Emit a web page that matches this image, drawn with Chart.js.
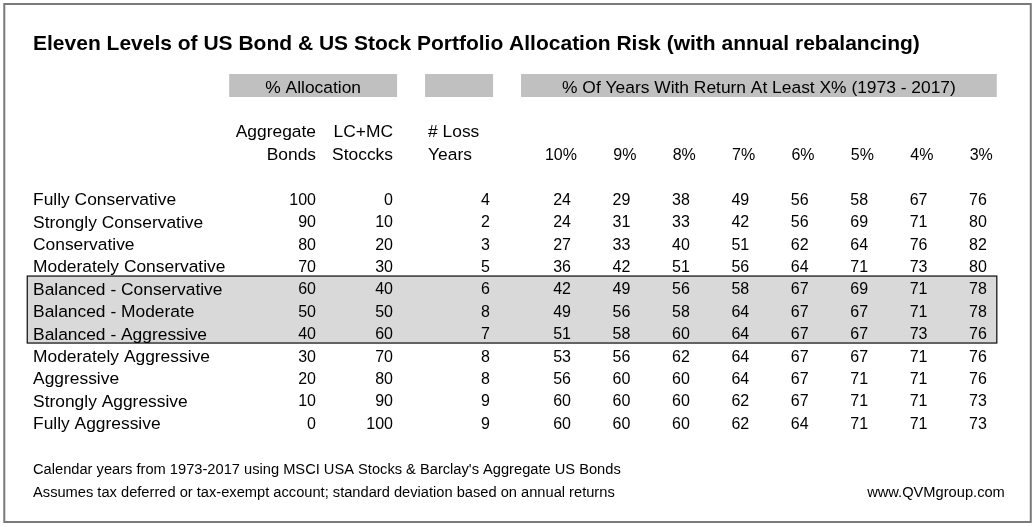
<!DOCTYPE html>
<html>
<head>
<meta charset="utf-8">
<script src="https://cdn.jsdelivr.net/npm/chart.js@4.4.1/dist/chart.umd.min.js"></script>
<style>
    html, body { margin: 0; padding: 0; background: #fff; }
    #wrap { width: 1035px; height: 527px; }
</style>
</head>
<body>
<div id="wrap"><canvas id="riskTable"></canvas></div>
<script>
// --- Table content ---
const titleText = 'Eleven Levels of US Bond & US Stock Portfolio Allocation Risk (with annual rebalancing)';
const allocHeader = '% Allocation';
const returnHeader = '% Of Years With Return At Least X% (1973 - 2017)';
const bondsHeader = ['Aggregate', 'Bonds'];
const stocksHeader = ['LC+MC', 'Stoccks'];
const lossHeader = ['# Loss', 'Years'];

const rowLabels = [
    'Fully Conservative', 'Strongly Conservative', 'Conservative', 'Moderately Conservative',
    'Balanced - Conservative', 'Balanced - Moderate', 'Balanced - Aggressive',
    'Moderately Aggressive', 'Aggressive', 'Strongly Aggressive', 'Fully Aggressive'
];
const bondAlloc = [100, 90, 80, 70, 60, 50, 40, 30, 20, 10, 0];
const stockAlloc = [0, 10, 20, 30, 40, 50, 60, 70, 80, 90, 100];
const lossYears = [4, 2, 3, 5, 6, 8, 7, 8, 8, 9, 9];

const returnThresholds = ['10%', '9%', '8%', '7%', '6%', '5%', '4%', '3%'];
const pct10 = [24, 24, 27, 36, 42, 49, 51, 53, 56, 60, 60];
const pct9 = [29, 31, 33, 42, 49, 56, 58, 56, 60, 60, 60];
const pct8 = [38, 33, 40, 51, 56, 58, 60, 62, 60, 60, 60];
const pct7 = [49, 42, 51, 56, 58, 64, 64, 64, 64, 62, 62];
const pct6 = [56, 56, 62, 64, 67, 67, 67, 67, 67, 67, 64];
const pct5 = [58, 69, 64, 71, 69, 67, 67, 67, 71, 71, 71];
const pct4 = [67, 71, 76, 73, 71, 71, 73, 71, 71, 71, 71];
const pct3 = [76, 80, 82, 80, 78, 78, 76, 76, 76, 73, 73];
const returnSeries = [pct10, pct9, pct8, pct7, pct6, pct5, pct4, pct3];

const highlightRows = [4, 6]; // the three "Balanced" rows
const footnotes = [
    'Calendar years from 1973-2017 using MSCI USA Stocks & Barclay\'s Aggregate US Bonds',
    'Assumes tax deferred or tax-exempt account; standard deviation based on annual returns'
];
const sourceText = 'www.QVMgroup.com';

// --- Layout (x unit = one return column, y unit = one table row) ---
const FONT = "'Liberation Sans', Arial, sans-serif";
const layout = {
    xMin: -9.613, xMax: 7.811,
    yMin: -8.884, yMax: 14.643,
    labelX: -9.057,
    bondsX: -4.293,
    stocksX: -2.997,
    lossX: -1.364,
    lossHeadX: -2.407,
    pctHeadShift: 0.1,
    titleY: -7.0,
    boxY: -5.0, boxTop: -5.58, boxBottom: -4.554,
    allocBox: [-5.755, -2.928],
    lossBox: [-2.457, -1.312],
    returnBox: [-0.841, 7.168],
    headY: [-3.04, -2.01],
    highlightX: [-9.154, 7.168],
    highlightY: [3.44, 6.43],
    footY: [12.05, 13.08],
    sourceX: 7.303,
    frameX: [-9.541, 7.74],
    frameY: [-8.705, 14.42]
};

function columnDataset(values, x, align, size) {
    return {
        data: values.map((v, i) => ({ x: x, y: i })),
        cellText: values.map(String),
        align: align,
        fontSize: size,
        pointRadius: 0,
        showLine: false
    };
}

const datasets = [
    columnDataset(rowLabels, layout.labelX, 'left', 17.4),
    columnDataset(bondAlloc, layout.bondsX, 'right', 16),
    columnDataset(stockAlloc, layout.stocksX, 'right', 16),
    columnDataset(lossYears, layout.lossX, 'right', 16)
];
returnSeries.forEach((series, c) => datasets.push(columnDataset(series, c, 'right', 16)));

function drawText(ctx, str, x, y, size, align, bold) {
    ctx.font = (bold ? 'bold ' : '') + size + 'px ' + FONT;
    ctx.textAlign = align;
    ctx.textBaseline = 'alphabetic';
    ctx.fillStyle = '#000';
    // y is the vertical centre of the capitals
    ctx.fillText(str, x, y + size * 0.716 / 2);
}

const tablePlugin = {
    id: 'tablePlugin',
    beforeDatasetsDraw(chart) {
        const ctx = chart.ctx;
        const xs = chart.scales.x, ys = chart.scales.y;
        const px = v => xs.getPixelForValue(v);
        const py = v => ys.getPixelForValue(v);
        ctx.save();

        // outer frame
        ctx.strokeStyle = '#7a7a7a';
        ctx.lineWidth = 2;
        ctx.strokeRect(px(layout.frameX[0]), py(layout.frameY[0]),
            px(layout.frameX[1]) - px(layout.frameX[0]), py(layout.frameY[1]) - py(layout.frameY[0]));

        // grey header bands
        ctx.fillStyle = '#c0c0c0';
        [layout.allocBox, layout.lossBox, layout.returnBox].forEach(b => {
            ctx.fillRect(px(b[0]), py(layout.boxTop), px(b[1]) - px(b[0]), py(layout.boxBottom) - py(layout.boxTop));
        });

        // highlighted balanced rows
        const hx0 = px(layout.highlightX[0]), hx1 = px(layout.highlightX[1]);
        const hy0 = py(layout.highlightY[0]), hy1 = py(layout.highlightY[1]);
        ctx.fillStyle = '#d9d9d9';
        ctx.fillRect(hx0, hy0, hx1 - hx0, hy1 - hy0);
        ctx.strokeStyle = '#1a1a1a';
        ctx.lineWidth = 1.3;
        ctx.strokeRect(hx0, hy0, hx1 - hx0, hy1 - hy0);

        // title and headers
        drawText(ctx, titleText, px(layout.labelX), py(layout.titleY), 21, 'left', true);
        drawText(ctx, allocHeader, (px(layout.allocBox[0]) + px(layout.allocBox[1])) / 2, py(layout.boxY), 17.4, 'center');
        drawText(ctx, returnHeader, (px(layout.returnBox[0]) + px(layout.returnBox[1])) / 2, py(layout.boxY), 17.4, 'center');
        layout.headY.forEach((hy, k) => {
            drawText(ctx, bondsHeader[k], px(layout.bondsX), py(hy), 17.4, 'right');
            drawText(ctx, stocksHeader[k], px(layout.stocksX), py(hy), 17.4, 'right');
            drawText(ctx, lossHeader[k], px(layout.lossHeadX), py(hy), 17.4, 'left');
        });
        returnThresholds.forEach((t, c) => {
            drawText(ctx, t, px(c + layout.pctHeadShift), py(layout.headY[1]), 16, 'right');
        });

        // footnotes
        footnotes.forEach((f, k) => drawText(ctx, f, px(layout.labelX), py(layout.footY[k]), 14.67, 'left'));
        drawText(ctx, sourceText, px(layout.sourceX), py(layout.footY[1]), 14.67, 'right');
        ctx.restore();
    },
    afterDatasetsDraw(chart) {
        const ctx = chart.ctx;
        ctx.save();
        chart.data.datasets.forEach((ds, i) => {
            const meta = chart.getDatasetMeta(i);
            meta.data.forEach((pt, j) => {
                drawText(ctx, ds.cellText[j], pt.x, pt.y, ds.fontSize, ds.align);
            });
        });
        ctx.restore();
    }
};

new Chart(document.getElementById('riskTable').getContext('2d'), {
    type: 'scatter',
    data: { datasets: datasets },
    options: {
        responsive: true,
        maintainAspectRatio: false,
        animation: false,
        events: [],
        layout: { padding: 0 },
        scales: {
            x: { type: 'linear', min: layout.xMin, max: layout.xMax, display: false },
            y: { type: 'linear', min: layout.yMin, max: layout.yMax, reverse: true, display: false }
        },
        plugins: {
            legend: { display: false },
            tooltip: { enabled: false }
        }
    },
    plugins: [tablePlugin]
});
</script>
</body>
</html>
